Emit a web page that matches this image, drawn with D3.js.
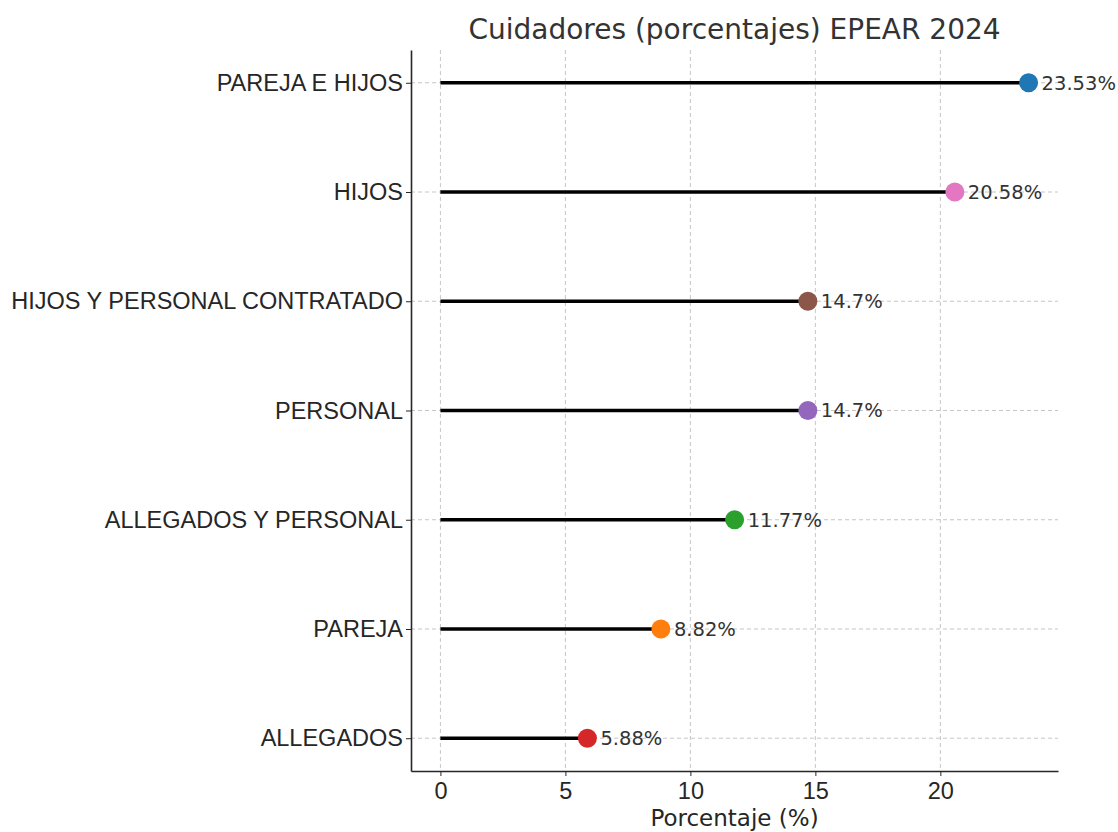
<!DOCTYPE html>
<html>
<head>
<meta charset="utf-8">
<script src="https://cdn.jsdelivr.net/npm/d3@7"></script>
<style>
  body { margin: 0; background: #fff; }
  svg { font-family: "DejaVu Sans", sans-serif; }
  .grid line { stroke: #c0c0c0; stroke-dasharray: 4,3; stroke-width: 0.9; }
  .axis path, .axis line { stroke: #262626; }
  .axis text { fill: #262626; }
</style>
</head>
<body>
<svg id="chart" width="1118" height="832"></svg>
<script>
// Data
var categories = ['PAREJA E HIJOS', 'HIJOS', 'HIJOS Y PERSONAL CONTRATADO', 'PERSONAL',
                  'ALLEGADOS Y PERSONAL', 'PAREJA', 'ALLEGADOS'];
var values = [23.53, 20.58, 14.7, 14.7, 11.77, 8.82, 5.88];
var valueLabels = ['23.53%', '20.58%', '14.7%', '14.7%', '11.77%', '8.82%', '5.88%'];
var colors = ['#1f77b4', '#e377c2', '#8c564b', '#9467bd', '#2ca02c', '#ff7f0e', '#d62728'];
var xTicks = [0, 5, 10, 15, 20];

// Define margins
var margin = {top: 50, right: 60, bottom: 61, left: 411},
    width = 1118 - margin.left - margin.right,
    height = 832 - margin.top - margin.bottom;

var svg = d3.select('#chart');
var g = svg.append('g')
    .attr('transform', 'translate(' + margin.left + ',' + margin.top + ')');

// Define scales (matplotlib style 5% padding)
var xMax = d3.max(values);
var xPad = xMax * 0.05;
var xScale = d3.scaleLinear().domain([-xPad, xMax + xPad]).range([0, width]);
var yScale = d3.scaleLinear().domain([-0.3, categories.length - 1 + 0.3]).range([0, height]);

// Grid lines
g.append('g').attr('class', 'grid')
    .selectAll('line').data(xTicks).enter().append('line')
    .attr('x1', function(d) { return xScale(d); })
    .attr('x2', function(d) { return xScale(d); })
    .attr('y1', 0).attr('y2', height);

g.append('g').attr('class', 'grid')
    .selectAll('line').data(categories).enter().append('line')
    .attr('x1', 0).attr('x2', width)
    .attr('y1', function(d, i) { return yScale(i); })
    .attr('y2', function(d, i) { return yScale(i); });

// Axes
var xAxis = d3.axisBottom(xScale).tickValues(xTicks).tickFormat(d3.format('d'))
    .tickSize(5).tickPadding(6).tickSizeOuter(0);
var yAxis = d3.axisLeft(yScale).tickValues(d3.range(categories.length))
    .tickFormat(function(i) { return categories[i]; })
    .tickSize(5).tickPadding(3).tickSizeOuter(0);

var gx = g.append('g').attr('class', 'axis')
    .attr('transform', 'translate(0,' + height + ')')
    .call(xAxis);
gx.selectAll('text').style('font-size', '23.5px');
gx.select('.domain').attr('stroke-width', 1.6);

var gy = g.append('g').attr('class', 'axis').call(yAxis);
gy.selectAll('text').style('font-size', '23.5px');
gy.select('.domain').attr('stroke-width', 1.6);

// Stems
g.selectAll('.stem').data(values).enter().append('line')
    .attr('class', 'stem')
    .attr('x1', xScale(0))
    .attr('x2', function(d) { return xScale(d); })
    .attr('y1', function(d, i) { return yScale(i); })
    .attr('y2', function(d, i) { return yScale(i); })
    .attr('stroke', '#000')
    .attr('stroke-width', 3.5);

// Dots
g.selectAll('.dot').data(values).enter().append('circle')
    .attr('class', 'dot')
    .attr('cx', function(d) { return xScale(d); })
    .attr('cy', function(d, i) { return yScale(i); })
    .attr('r', 9.5)
    .attr('fill', function(d, i) { return colors[i]; });

// Value labels
g.selectAll('.val').data(values).enter().append('text')
    .attr('class', 'val')
    .attr('x', function(d) { return xScale(d) + 13; })
    .attr('y', function(d, i) { return yScale(i); })
    .attr('dy', '0.35em')
    .attr('fill', '#333')
    .style('font-size', '19.5px')
    .text(function(d, i) { return valueLabels[i]; });

// Title and x label
svg.append('text')
    .attr('x', margin.left + width / 2)
    .attr('y', 39)
    .attr('text-anchor', 'middle')
    .attr('fill', '#333')
    .style('font-size', '28px')
    .text('Cuidadores (porcentajes) EPEAR 2024');

svg.append('text')
    .attr('x', margin.left + width / 2)
    .attr('y', 826)
    .attr('text-anchor', 'middle')
    .attr('fill', '#262626')
    .style('font-size', '23px')
    .text('Porcentaje (%)');
</script>
</body>
</html>
